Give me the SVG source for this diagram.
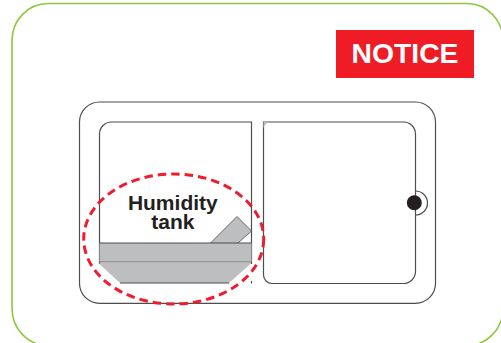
<svg xmlns="http://www.w3.org/2000/svg" width="501" height="343" viewBox="0 0 501 343">
<style>
.l{fill:none;stroke:#4d4d4f;stroke-width:1.2}
.t{font-family:"Liberation Sans",Arial,sans-serif;font-weight:bold}
.g{fill:#bcbec0}
</style>
<rect width="501" height="343" fill="#fff"/>
<rect id="frame" x="12" y="3.500" width="491" height="342" rx="36" ry="37" fill="none" stroke="#8dc63f" stroke-width="1.600"/>
<g id="notice">
<rect x="336" y="30" width="138" height="48" fill="#ef1c25"/>
<text class="t" x="405" y="63" font-size="28.300" fill="#fff" text-anchor="middle">NOTICE</text>
</g>
<g id="device">
<rect class="l" x="79.500" y="102" width="356" height="201.300" rx="20" ry="20"/>
</g>
<g id="left-compartment">
<path class="l" d="M99.500 264V134A12 12 0 0 1 111.500 122H251.500V264"/>
<path class="l" d="M251.500 281V283.500"/>
</g>
<g id="right-compartment">
<path class="l" d="M263.500 275V122H403.500A12 12 0 0 1 415.500 134V271.500A12 12 0 0 1 403.500 283.500H272A8.500 8.500 0 0 1 263.500 275"/>
<path d="M263.500 122H270Q264.500 123.500 263.500 129Z" fill="#bcbec0"/>
</g>
<g id="knob">
<path class="l" d="M415.500 191A12 12 0 0 1 415.500 215"/>
<circle cx="414.300" cy="202.800" r="7.500" fill="#231f20"/>
</g>
<g id="tank">
<path class="g" d="M210.500 243L237 216.500L251.500 231L238 243Z"/>
<path d="M210.500 243L237 216.500L251.500 231L238 243" fill="none" stroke="#4d4d4f" stroke-width=".8"/>
<rect class="g" x="99.500" y="243" width="152" height="19"/>
<path class="g" d="M99.500 263H251.500L229 283H120L99.500 264Z"/>
<path d="M99.500 243H251.500" fill="none" stroke="#4d4d4f" stroke-width="1.200"/>
<path d="M99.500 262H251.500" fill="none" stroke="#6d6e71" stroke-width="1.200"/>
<path d="M120 283H229" fill="none" stroke="#4d4d4f" stroke-width="1"/>
</g>
<g id="label">
<text class="t" x="172.800" y="210" font-size="21" fill="#231f20" text-anchor="middle">Humidity</text>
<text class="t" x="172.800" y="228.500" font-size="21" fill="#231f20" text-anchor="middle">tank</text>
</g>
<g id="connectors">
<ellipse cx="173.700" cy="239" rx="90" ry="65" fill="none" stroke="#ed1c2e" stroke-width="3" stroke-dasharray="8.500 5"/>
</g>
</svg>
